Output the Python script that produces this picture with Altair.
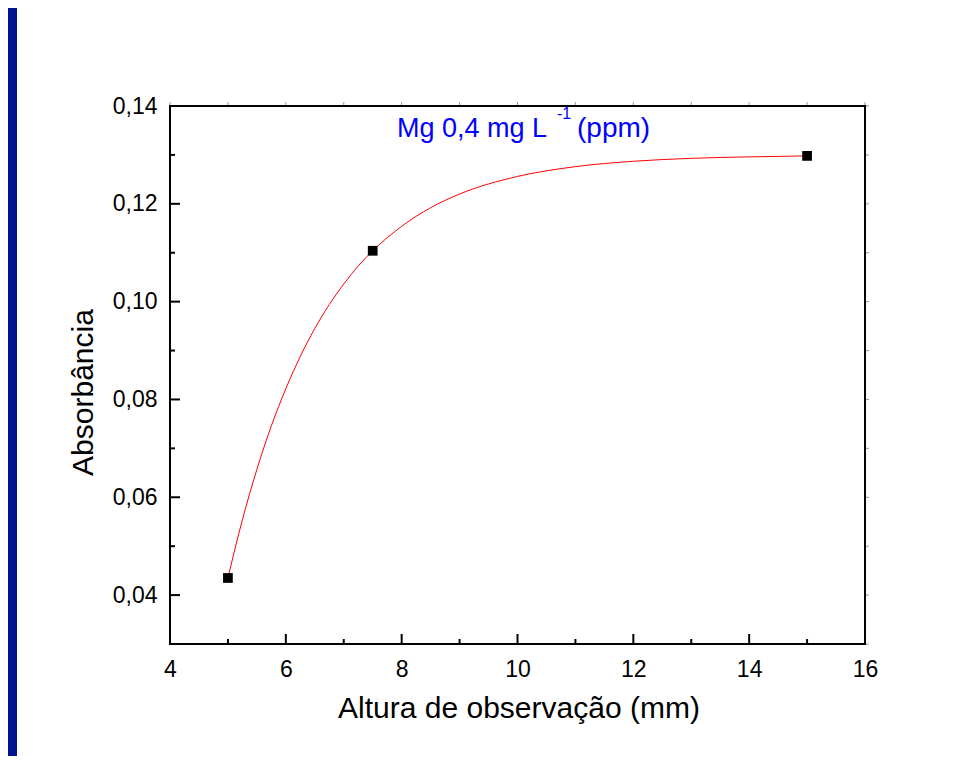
import altair as alt
import pandas as pd

# measured points
pt_x = [5.0, 7.5, 15.0]
pt_y = [0.0435, 0.1104, 0.1298]

# red fitted curve
curve_x = [5.0, 5.25, 5.5, 5.75, 6.0, 6.25, 6.5, 6.75, 7.0, 7.25, 7.5,
           8.0, 8.5, 9.0, 10.0, 11.0, 12.0, 13.0, 14.0, 15.0]
curve_y = [0.0435, 0.0554, 0.0657, 0.0746, 0.0822, 0.0888, 0.0945, 0.0994,
           0.1036, 0.1073, 0.1104, 0.1154, 0.1192, 0.1220, 0.1256, 0.1276,
           0.1287, 0.1293, 0.1296, 0.1298]

x_major = [4, 6, 8, 10, 12, 14, 16]
x_minor = [5, 7, 9, 11, 13, 15]
y_major = [0.04, 0.06, 0.08, 0.10, 0.12, 0.14]
y_minor = [0.03, 0.05, 0.07, 0.09, 0.11, 0.13]

x_title = "Altura de observação (mm)"
y_title = "Absorbância"
note_main = "Mg 0,4 mg L"
note_sup = "-1"
note_tail = "(ppm)"

W, H = 695, 538
FONT = "Liberation Sans"

pts = pd.DataFrame({"x": pt_x, "y": pt_y})
curve = pd.DataFrame({"x": curve_x, "y": curve_y})
xmaj = pd.DataFrame({"x": x_major})
xmin = pd.DataFrame({"x": x_minor})
ymaj = pd.DataFrame({"y": y_major})
ymin = pd.DataFrame({"y": y_minor})
one = pd.DataFrame({"a": [0]})

xscale = alt.Scale(domain=[4, 16], nice=False, zero=False)
yscale = alt.Scale(domain=[0.03, 0.14], nice=False, zero=False)

xaxis = alt.Axis(values=x_major, ticks=False, domain=False, grid=False,
                 labelFlush=False, labelOverlap=False,
                 labelFont=FONT, labelFontSize=23, labelColor="black",
                 labelPadding=14, title=x_title, titleFont=FONT,
                 titleFontSize=30, titleFontWeight="normal", titleColor="black",
                 titleX=W / 2 + 1, titleY=73, titleBaseline="alphabetic",
                 titleAlign="center")
yaxis = alt.Axis(values=y_major, ticks=False, domain=False, grid=False,
                 labelFlush=False, labelOverlap=False,
                 labelExpr="replace(format(datum.value, '.2f'), '.', ',')",
                 labelFont=FONT, labelFontSize=23, labelColor="black",
                 labelPadding=13, title=y_title, titleFont=FONT,
                 titleFontSize=30, titleFontWeight="normal", titleColor="black",
                 titleAngle=-90, titleX=-78, titleY=286,
                 titleBaseline="alphabetic", titleAlign="center")


def X():
    return alt.X("x:Q", scale=xscale, axis=xaxis)


def Y():
    return alt.Y("y:Q", scale=yscale, axis=yaxis)


bar = alt.Chart(one).mark_rect(color="#001490").encode(
    x=alt.value(-162), x2=alt.value(-153), y=alt.value(-98), y2=alt.value(H + 112))

line = alt.Chart(curve).mark_line(color="#FF0000", strokeWidth=1,
                                  interpolate="monotone").encode(x=X(), y=Y())
points = alt.Chart(pts).mark_point(shape="square", filled=True, size=95,
                                   color="black", opacity=1).encode(x=X(), y=Y())

tick_style = dict(color="black", strokeWidth=2)
bx_major = alt.Chart(xmaj).mark_rule(**tick_style).encode(
    x=X(), y=alt.value(H), y2=alt.value(H - 10))
bx_minor = alt.Chart(xmin).mark_rule(**tick_style).encode(
    x=X(), y=alt.value(H), y2=alt.value(H - 5))
ly_major = alt.Chart(ymaj).mark_rule(**tick_style).encode(
    y=Y(), x=alt.value(0), x2=alt.value(10))
ly_minor = alt.Chart(ymin).mark_rule(**tick_style).encode(
    y=Y(), x=alt.value(0), x2=alt.value(5))

faint = dict(color="#999999", strokeWidth=1)
top_major = alt.Chart(xmaj).mark_rule(**faint).encode(x=X(), y=alt.value(-1), y2=alt.value(-4))
top_minor = alt.Chart(xmin).mark_rule(**faint).encode(x=X(), y=alt.value(-1), y2=alt.value(-4))
right_major = alt.Chart(ymaj).mark_rule(**faint).encode(y=Y(), x=alt.value(W + 1), x2=alt.value(W + 4))
right_minor = alt.Chart(ymin).mark_rule(**faint).encode(y=Y(), x=alt.value(W + 1), x2=alt.value(W + 4))

txt = dict(font=FONT, color="#0000FF", align="left", baseline="alphabetic")
t1 = alt.Chart(one).mark_text(text=note_main, fontSize=27, **txt).encode(
    x=alt.value(227), y=alt.value(31))
t2 = alt.Chart(one).mark_text(text=note_sup, fontSize=16, **txt).encode(
    x=alt.value(387), y=alt.value(13))
t3 = alt.Chart(one).mark_text(text=note_tail, fontSize=28, **txt).encode(
    x=alt.value(407), y=alt.value(31))

chart = alt.layer(
    bar, line, points, bx_major, bx_minor, ly_major, ly_minor,
    top_major, top_minor, right_major, right_minor, t1, t2, t3
).properties(
    width=W, height=H,
    autosize=alt.AutoSizeParams(type="none"),
    padding={"left": 162, "top": 98, "right": 80, "bottom": 112},
    background="white",
).configure_view(stroke="black", strokeWidth=2)

chart.save("out.html", embed_options={"renderer": "svg", "actions": False})
